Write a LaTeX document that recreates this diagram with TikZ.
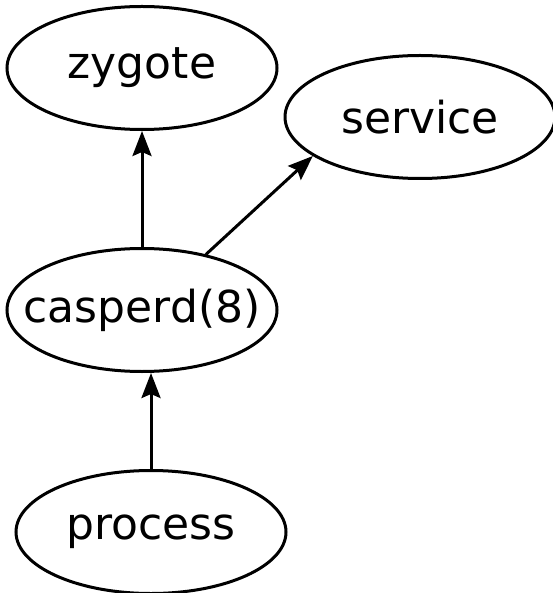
\documentclass[tikz,border=0pt]{standalone}
\usepackage{fontspec}
\setmainfont{DejaVu Sans}
\usetikzlibrary{positioning}
\usetikzlibrary{shapes.geometric, arrows.meta}

\tikzset{
  blob/.style={ellipse, draw, line width=3pt, minimum width=270pt, minimum height=123pt,
    inner xsep=-30pt, inner ysep=0pt, font=\fontsize{44}{52}\selectfont},
  link/.style={line width=3pt, -{Stealth[length=25pt, width=19pt, inset=4pt]}}
}

\begin{document}
\begin{tikzpicture}
\useasboundingbox (0pt,0pt) rectangle (552pt,-593pt);
% draw nodes
\node[blob] (casperd) at (142pt,-310pt) {casperd(8)};
\node[blob, above=116pt of casperd] (zygote) {zygote};
\node[blob] (service) at (420pt,-117pt) {service};
\node[blob, below=96pt of casperd, xshift=9pt] (process) {process};

\draw[link] (casperd) -- (zygote);
\draw[link] (casperd.41) -- (service.200);
\draw[link] (process.north) -- (process.north |- casperd.south);
\end{tikzpicture}
\end{document}
